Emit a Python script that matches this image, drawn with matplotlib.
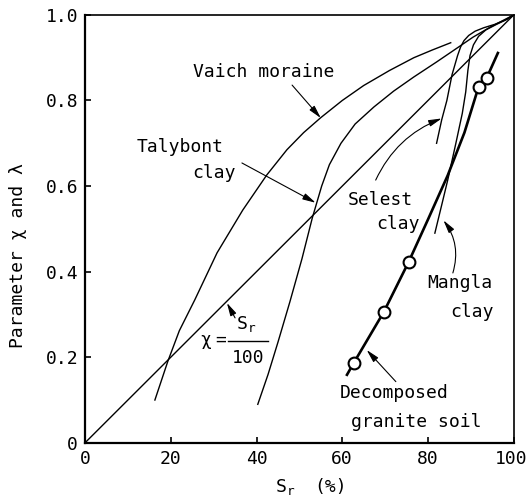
import matplotlib
matplotlib.use('Agg')
import matplotlib.pyplot as plt
import matplotlib.transforms as mtransforms

plt.rcParams.update({
    'font.family': 'DejaVu Sans Mono',
    'font.size': 13,
    'mathtext.fontset': 'custom',
    'mathtext.rm': 'DejaVu Sans Mono',
    'mathtext.it': 'DejaVu Sans Mono',
})

# curves (Sr in %, parameter)
vaich_sr = [16.3, 17.8, 19.3, 22.0, 25.6, 30.8, 36.8, 42.4, 47.1, 51.0, 55.0,
            60.0, 65.0, 71.0, 76.7, 81.0, 85.3]
vaich_p = [0.10, 0.145, 0.19, 0.262, 0.334, 0.444, 0.544, 0.626, 0.685, 0.725, 0.76,
           0.80, 0.835, 0.870, 0.90, 0.918, 0.935]

talybont_sr = [40.3, 42.7, 45.0, 47.8, 50.6, 53.0, 55.2, 57.0, 59.7, 63.0, 67.4,
               72.0, 76.7, 82.0, 86.7, 90.5, 94.6, 100]
talybont_p = [0.09, 0.16, 0.235, 0.33, 0.43, 0.525, 0.600, 0.650, 0.700, 0.745, 0.785,
              0.822, 0.855, 0.890, 0.922, 0.948, 0.972, 1.0]

selest_sr = [82.0, 83.2, 84.4, 85.6, 86.9, 87.6, 88.4, 89.5, 91.0, 93.0, 95.6, 98.0, 100]
selest_p = [0.70, 0.755, 0.80, 0.86, 0.905, 0.925, 0.940, 0.952, 0.962, 0.970, 0.978, 0.988, 1.0]

mangla_sr = [81.6, 83.3, 84.6, 86.5, 88.0, 88.8, 89.3, 89.8, 90.6, 91.8, 93.5, 96.0, 98.5, 100]
mangla_p = [0.49, 0.56, 0.614, 0.70, 0.77, 0.82, 0.87, 0.905, 0.930, 0.950, 0.965, 0.978, 0.990, 1.0]

# decomposed granite soil: fitted line and measured points
granite_line_sr = [61.1, 62.7, 69.7, 75.5, 80.0, 84.6, 88.5, 91.8, 93.7, 96.3]
granite_line_p = [0.159, 0.187, 0.306, 0.423, 0.522, 0.625, 0.725, 0.832, 0.853, 0.911]
granite_sr = [62.7, 69.7, 75.5, 91.8, 93.7]
granite_p = [0.187, 0.306, 0.423, 0.832, 0.853]

chi_sr = [0, 100]
chi_p = [0, 1.0]

xticks = [0, 20, 40, 60, 80, 100]
yticks = [0, 0.2, 0.4, 0.6, 0.8, 1.0]
yticklabels = ['0', '0.2', '0.4', '0.6', '0.8', '1.0']

fig = plt.figure(figsize=(5.28, 4.97), dpi=100)
ax = fig.add_axes([0.161, 0.109, 0.812, 0.861])

thin = dict(color='black', lw=1.0, solid_joinstyle='round')
ax.plot(chi_sr, chi_p, **thin)
ax.plot(vaich_sr, vaich_p, **thin)
ax.plot(talybont_sr, talybont_p, **thin)
ax.plot(selest_sr, selest_p, **thin)
ax.plot(mangla_sr, mangla_p, **thin)
ax.plot(granite_line_sr, granite_line_p, color='black', lw=1.9)
ax.plot(granite_sr, granite_p, 'o', ms=8.5, mfc='white', mec='black', mew=1.5)

arrow = dict(arrowstyle='-|>,head_length=0.6,head_width=0.15', color='black', lw=0.8,
             shrinkA=0, shrinkB=0)

ax.text(41.7, 0.867, 'Vaich moraine', ha='center', va='center')
ax.annotate('', xy=(55.0, 0.759), xytext=(48.3, 0.836), arrowprops=arrow)

ax.text(22.3, 0.692, 'Talybont', ha='center', va='center')
ax.text(30.1, 0.631, 'clay', ha='center', va='center')
ax.annotate('', xy=(53.8, 0.561), xytext=(36.6, 0.654), arrowprops=arrow)

ax.text(68.8, 0.568, 'Selest', ha='center', va='center')
ax.text(73.0, 0.512, 'clay', ha='center', va='center')
ax.annotate('', xy=(83.2, 0.758), xytext=(67.8, 0.614),
            arrowprops=dict(arrow, connectionstyle='arc3,rad=-0.2'))

ax.text(87.4, 0.374, 'Mangla', ha='center', va='center')
ax.text(90.2, 0.306, 'clay', ha='center', va='center')
ax.annotate('', xy=(83.6, 0.52), xytext=(85.8, 0.397),
            arrowprops=dict(arrow, connectionstyle='arc3,rad=0.25'))

ax.text(72.0, 0.117, 'Decomposed', ha='center', va='center')
ax.text(77.2, 0.049, 'granite soil', ha='center', va='center')
ax.annotate('', xy=(65.7, 0.217), xytext=(72.5, 0.143), arrowprops=arrow)

# chi = Sr / 100 label
ax.text(28.2, 0.240, 'χ', ha='center', va='center')
ax.text(31.6, 0.240, '=', ha='center', va='center')
ax.plot([33.3, 42.7], [0.238, 0.238], color='black', lw=1.0)
ax.text(37.6, 0.278, r'$\mathrm{S_r}$', ha='center', va='center')
ax.text(38.0, 0.198, '100', ha='center', va='center')
ax.annotate('', xy=(33.1, 0.327), xytext=(35.0, 0.292), arrowprops=arrow)

ax.set_xlim(0, 100)
ax.set_ylim(0, 1.0)
ax.set_xticks(xticks)
ax.set_yticks(yticks)
ax.set_yticklabels(yticklabels)
ax.tick_params(direction='in', length=4, width=1.2, pad=5)
for side in ['left', 'bottom']:
    ax.spines[side].set_linewidth(1.6)
for side in ['top', 'right']:
    ax.spines[side].set_linewidth(1.2)

# nudge the last x tick label so it stays inside the figure
last = ax.get_xticklabels()[-1]
last.set_transform(last.get_transform() +
                   mtransforms.ScaledTranslation(-3 / 100, 0, fig.dpi_scale_trans))

ax.text(46.6, -0.103, r'$\mathrm{S_r}$', ha='center', va='center', clip_on=False)
ax.text(57.3, -0.103, '(%)', ha='center', va='center', clip_on=False)
fig.text(0.035, 0.485, 'Parameter χ and λ', rotation=90, ha='center', va='center')

fig.savefig('out.png', dpi=100)
